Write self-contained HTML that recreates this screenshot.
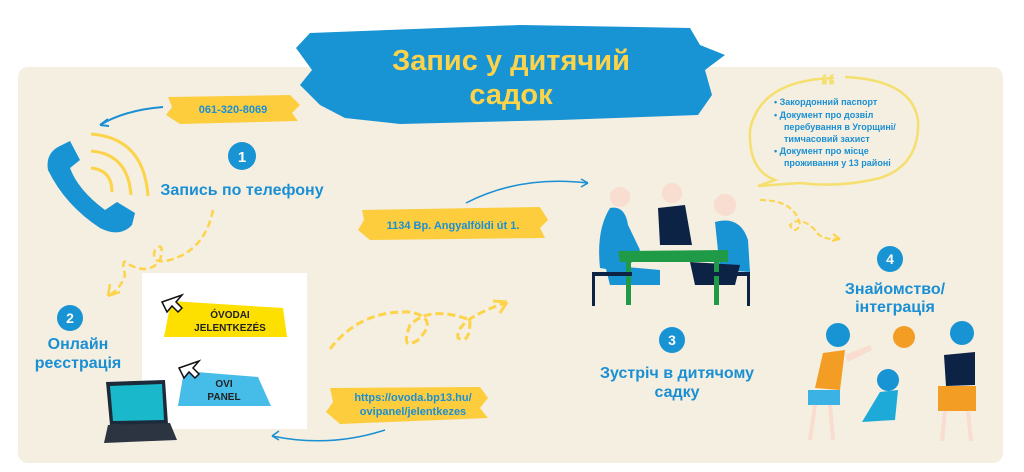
<!DOCTYPE html>
<html><head><meta charset="utf-8"><style>
html,body{margin:0;padding:0;background:#fff;}
svg{display:block;}
text{font-family:"Liberation Sans","DejaVu Sans",sans-serif;font-weight:bold;}
</style></head><body>
<svg width="1024" height="472" viewBox="0 0 1024 472" xmlns="http://www.w3.org/2000/svg">
<rect x="18" y="67" width="985" height="396" rx="10" fill="#f4efe0"/>
<!-- title brush -->
<path d="M310 33 L520 25 L690 28 L700 45 L725 55 L705 70 L712 95 L698 115 L560 120 L400 124 L345 118 L320 105 L300 85 L312 70 L296 48 Z" fill="#1893d3"/>
<text x="511" y="70" font-size="29" fill="#fdd34a" text-anchor="middle">Запис у дитячий</text>
<text x="511" y="104" font-size="29" fill="#fdd34a" text-anchor="middle">садок</text>
<!-- phone brush -->
<path d="M168 97 L290 95 L300 105 L292 113 L298 121 L180 124 L166 115 L172 107 Z" fill="#fdcd3e"/>
<text x="233" y="113" font-size="11" fill="#1a8fd4" text-anchor="middle">061-320-8069</text>
<path d="M163 107 Q125 110 100 125" stroke="#1a8fd4" stroke-width="2" fill="none"/>
<path d="M100 125 l8 -6 M100 125 l9 1" stroke="#1a8fd4" stroke-width="2"/>
<!-- phone -->
<path d="M62 145 L70 141 L80 160 L70 168 Q78 190 105 210 L117 202 L135 213 L132 225 Q120 238 100 228 Q65 205 48 170 Q45 152 62 145 Z" fill="#1893d3"/>
<g fill="none" stroke="#fdd34a" stroke-width="3">
<path d="M91 168 Q112 170 112 192"/><path d="M91 151 Q128 154 131 195"/><path d="M91 134 Q144 138 148 196"/>
</g>
<circle cx="242" cy="156" r="14" fill="#1893d3"/>
<text x="242" y="162" font-size="15" fill="#fff" text-anchor="middle">1</text>
<text x="242" y="195" font-size="16" fill="#1a8fd4" text-anchor="middle">Запись по телефону</text>
<!-- dashed loop 1 -->
<path d="M213 210 Q205 250 170 260 Q150 265 155 250 Q165 240 160 260 Q150 275 130 265 Q120 255 125 275 Q120 290 108 296" fill="none" stroke="#fdd34a" stroke-width="2.5" stroke-dasharray="7 4"/>
<path d="M108 296 l2 -12 M108 296 l12 -4" stroke="#fdd34a" stroke-width="2.5"/>
<circle cx="70" cy="318" r="13" fill="#1893d3"/>
<text x="70" y="323" font-size="14" fill="#fff" text-anchor="middle">2</text>
<text x="78" y="349" font-size="16" fill="#1a8fd4" text-anchor="middle">Онлайн</text>
<text x="78" y="368" font-size="16" fill="#1a8fd4" text-anchor="middle">реєстрація</text>
<!-- white box -->
<rect x="142" y="273" width="165" height="156" fill="#fff"/>
<path d="M171 301 L283 308 L287 337 L164 337 Z" fill="#fde000"/>
<text x="230" y="318" font-size="10" fill="#222" font-weight="normal" text-anchor="middle">ÓVODAI</text>
<text x="230" y="331" font-size="10" fill="#222" font-weight="normal" text-anchor="middle">JELENTKEZÉS</text>
<path d="M184 371 L258 377 L271 406 L178 406 Z" fill="#46bde9"/>
<text x="224" y="387" font-size="10" fill="#222" font-weight="normal" text-anchor="middle">OVI</text>
<text x="224" y="400" font-size="10" fill="#222" font-weight="normal" text-anchor="middle">PANEL</text>
<path d="M162 302 L182 295 L176 302 L182 308 L178 312 L172 306 L167 312 Z" fill="#fff" stroke="#111" stroke-width="1.5"/>
<path d="M179 368 L199 361 L193 368 L199 374 L195 378 L189 372 L184 378 Z" fill="#fff" stroke="#111" stroke-width="1.5"/>
<!-- laptop -->
<path d="M106 382 L165 380 L168 424 L110 425 Z" fill="#1d2a3a"/>
<path d="M110 386 L162 384 L164 420 L113 421 Z" fill="#19b9cb"/>
<path d="M108 425 L170 423 L177 440 L104 443 Z" fill="#2b3440"/>
<!-- link brush -->
<path d="M330 388 L480 387 L488 398 L480 408 L488 418 L340 424 L326 412 L333 402 Z" fill="#fdcd3e"/>
<text x="413" y="401" font-size="11" fill="#1a8fd4" text-anchor="middle">https://ovoda.bp13.hu/</text>
<text x="413" y="415" font-size="11" fill="#1a8fd4" text-anchor="middle">ovipanel/jelentkezes</text>
<path d="M385 430 Q330 448 272 436" stroke="#1a8fd4" stroke-width="1.5" fill="none"/>
<path d="M272 436 l7 -5 M272 436 l7 4" stroke="#1a8fd4" stroke-width="1.5"/>
<!-- dashed loop 2 -->
<path d="M330 349 Q360 310 410 312 Q440 318 418 340 Q400 352 410 325 Q430 305 470 320 Q470 345 458 338 Q455 320 505 303" fill="none" stroke="#fdd34a" stroke-width="3" stroke-dasharray="8 4"/>
<path d="M507 302 l-14 -1 M507 302 l-7 11" stroke="#fdd34a" stroke-width="3"/>
<!-- address brush -->
<path d="M362 210 L540 207 L548 220 L540 228 L545 238 L370 240 L358 230 L364 220 Z" fill="#fdcd3e"/>
<text x="453" y="229" font-size="11" fill="#1a8fd4" text-anchor="middle">1134 Bp. Angyalföldi út 1.</text>
<path d="M466 203 Q520 175 588 183" stroke="#1a8fd4" stroke-width="1.5" fill="none"/>
<path d="M588 183 l-7 -4 M588 183 l-7 4" stroke="#1a8fd4" stroke-width="1.5"/>
<!-- people -->
<path d="M610 208 Q625 205 628 225 L640 250 L625 272 L600 268 Q596 230 610 208Z" fill="#1893d3"/>
<path d="M605 265 L660 270 L660 285 L610 285 Z" fill="#1893d3"/>
<path d="M658 208 L685 205 L692 245 L660 245 Z" fill="#0d2346"/>
<path d="M715 222 Q740 215 748 240 L750 272 L720 270 Z" fill="#1893d3"/>
<path d="M690 262 L740 265 L735 285 L695 285 Z" fill="#0d2346"/>
<circle cx="620" cy="197" r="10" fill="#f8ddd0"/><circle cx="672" cy="193" r="10" fill="#f8ddd0"/><circle cx="725" cy="205" r="11" fill="#f8ddd0"/>
<path d="M618 251 L728 250 L728 262 L620 262 Z" fill="#1f9b48"/>
<path d="M626 262 h5 v43 h-5z M714 262 h5 v43 h-5z" fill="#1f9b48"/>
<path d="M592 272 h40 v4 h-40z M592 276 h3 v30 h-3z M700 272 h50 v4 h-50z M747 276 h3 v30 h-3z" fill="#0d2346"/>
<circle cx="672" cy="340" r="13" fill="#1893d3"/>
<text x="672" y="345" font-size="14" fill="#fff" text-anchor="middle">3</text>
<text x="677" y="378" font-size="16" fill="#1a8fd4" text-anchor="middle">Зустріч в дитячому</text>
<text x="677" y="397" font-size="16" fill="#1a8fd4" text-anchor="middle">садку</text>
<!-- speech bubble -->
<path d="M834 78 Q760 80 750 130 Q748 170 775 180 L758 186 L800 183 Q840 188 880 178 Q920 165 918 120 Q912 80 845 77" fill="none" stroke="#f5df6e" stroke-width="2.5"/>
<text x="828" y="98" font-size="34" fill="#f5df6e" text-anchor="middle">“</text>
<g font-size="9" fill="#1a8fd4">
<text x="774" y="105">•  Закордонний паспорт</text>
<text x="774" y="118">•  Документ про дозвіл</text>
<text x="784" y="130">перебування в Угорщині/</text>
<text x="784" y="142">тимчасовий захист</text>
<text x="774" y="154">•  Документ про місце</text>
<text x="784" y="166">проживання у 13 районі</text>
</g>
<path d="M760 200 Q795 200 800 225 Q795 235 790 225 Q800 215 815 230 Q820 240 838 239" fill="none" stroke="#fdd34a" stroke-width="2" stroke-dasharray="6 3"/>
<path d="M840 239 l-7 -5 M840 239 l-8 2" stroke="#fdd34a" stroke-width="2"/>
<circle cx="890" cy="259" r="13" fill="#1893d3"/>
<text x="890" y="264" font-size="14" fill="#fff" text-anchor="middle">4</text>
<text x="895" y="294" font-size="16" fill="#1a8fd4" text-anchor="middle">Знайомство/</text>
<text x="895" y="312" font-size="16" fill="#1a8fd4" text-anchor="middle">інтеграція</text>
<!-- kids -->
<circle cx="904" cy="337" r="11" fill="#f49d24"/>
<circle cx="838" cy="335" r="12" fill="#1893d3"/>
<path d="M823 353 L845 350 L840 390 L815 388 Z" fill="#f49d24"/>
<path d="M845 355 L870 345 L872 350 L848 362 Z" fill="#f8ddd0"/>
<path d="M808 390 h32 v15 h-32z" fill="#3ab3e4"/>
<path d="M815 405 l-5 35 M830 405 l3 35" stroke="#f8ddd0" stroke-width="4"/>
<circle cx="962" cy="333" r="12" fill="#1893d3"/>
<path d="M944 355 L975 352 L975 385 L946 386 Z" fill="#0d2346"/>
<path d="M938 386 h38 v25 h-38z" fill="#f49d24"/>
<path d="M945 411 l-3 30 M968 411 l3 30" stroke="#f8ddd0" stroke-width="4"/>
<circle cx="888" cy="380" r="11" fill="#1893d3"/>
<path d="M880 392 L898 390 L895 420 L862 422 Z" fill="#1eaad8"/>
</svg>
</body></html>
